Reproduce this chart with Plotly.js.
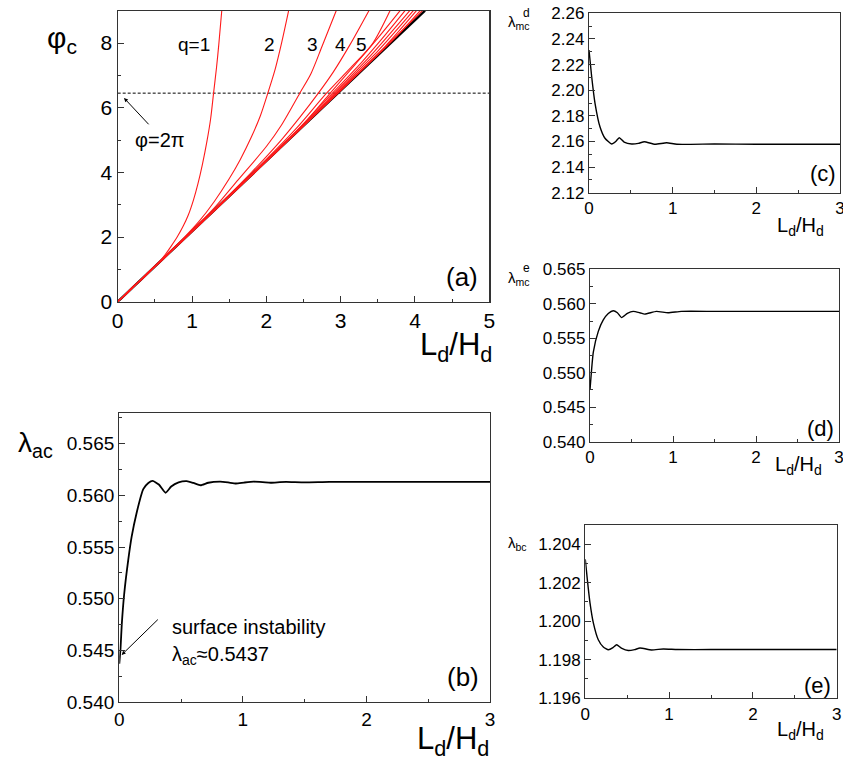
<!DOCTYPE html>
<html><head><meta charset="utf-8">
<script src="https://cdn.plot.ly/plotly-3.0.1.min.js"></script>
<style>html,body{margin:0;padding:0;background:#fff}#chart{width:843px;height:763px}</style>
</head><body><div id="chart"></div>
<script>
// ---------- Panel (a): critical phase vs Ld/Hd ----------
const limitX = [0, 1, 2, 3, 4.135];
const limitY = [0, 2.177, 4.354, 6.531, 9];
const twoPiX = [0, 5];
const twoPiY = [6.45, 6.45];
const q1X = [0, 0.55, 0.64, 0.72, 0.80, 0.88, 0.95, 1.02, 1.08, 1.14, 1.20, 1.25, 1.29, 1.33, 1.36, 1.40];
const q1Y = [0, 1.20, 1.46, 1.72, 2.00, 2.33, 2.68, 3.15, 3.65, 4.25, 4.95, 5.65, 6.45, 7.25, 7.95, 9.00];
const q2X = [0, 0.70, 0.90, 1.10, 1.30, 1.50, 1.65, 1.80, 1.92, 2.02, 2.12, 2.21, 2.30];
const q2Y = [0, 1.55, 2.00, 2.50, 3.10, 3.80, 4.40, 5.10, 5.75, 6.45, 7.20, 8.05, 9.00];
const q3X = [0, 1.00, 1.30, 1.62, 1.80, 2.00, 2.20, 2.45, 2.60, 2.75, 2.94];
const q3Y = [0, 2.20, 2.90, 3.77, 4.25, 4.80, 5.45, 6.45, 7.05, 7.90, 9.00];
const q4X = [0, 1.30, 1.80, 2.20, 2.45, 2.70, 2.90, 3.126, 3.38];
const q4Y = [0, 2.85, 4.00, 5.00, 5.70, 6.45, 7.10, 7.95, 9.00];
const q5X = [0, 1.50, 2.00, 2.40, 2.81, 3.12, 3.42, 3.664];
const q5Y = [0, 3.27, 4.40, 5.35, 6.45, 7.20, 7.95, 9.00];
const q6X = [0, 2.00, 2.50, 2.86, 3.20, 3.50, 3.80];
const q6Y = [0, 4.37, 5.50, 6.45, 7.35, 8.15, 9.00];
const q7X = [0, 2.20, 2.89, 3.30, 3.60, 3.866];
const q7Y = [0, 4.80, 6.45, 7.45, 8.25, 9.00];
const q8X = [0, 2.40, 2.915, 3.40, 3.93];
const q8Y = [0, 5.23, 6.45, 7.60, 9.00];
const q9X = [0, 2.60, 2.93, 3.50, 3.978];
const q9Y = [0, 5.66, 6.45, 7.75, 9.00];
const q10X = [0, 2.70, 2.945, 3.60, 4.02];
const q10Y = [0, 5.88, 6.45, 7.90, 9.00];
const q11X = [0, 2.80, 3.70, 4.07];
const q11Y = [0, 6.10, 8.08, 9.00];
const q12X = [0, 3.00, 4.10];
const q12Y = [0, 6.53, 9.00];
const qLabels = ["q=1", "2", "3", "4", "5"];
const qLabelX = [1.02, 2.04, 2.62, 3.00, 3.28];
const qLabelY = [7.95, 7.95, 7.95, 7.95, 7.95];

// ---------- Panel (b): lambda_ac ----------
const bX = [0, 0.01, 0.02, 0.04, 0.073, 0.10, 0.14, 0.194, 0.235, 0.27, 0.32, 0.375, 0.42, 0.48, 0.545, 0.60, 0.658, 0.72, 0.815, 0.88, 0.944, 1.01, 1.087, 1.16, 1.225, 1.30, 1.35, 1.50, 1.70, 2.00, 2.50, 3.00];
const bY = [0.5437, 0.5452, 0.5475, 0.5505, 0.5538, 0.5560, 0.5583, 0.5606, 0.5612, 0.56140, 0.56105, 0.56025, 0.56085, 0.56125, 0.56137, 0.56120, 0.56098, 0.56122, 0.56132, 0.56125, 0.56115, 0.56124, 0.56132, 0.56128, 0.56122, 0.56128, 0.56131, 0.56126, 0.56131, 0.56130, 0.56131, 0.56131];

// ---------- Panel (c): lambda^d_mc ----------
const cX = [0, 0.032, 0.072, 0.131, 0.191, 0.271, 0.32, 0.362, 0.42, 0.51, 0.59, 0.661, 0.789, 0.928, 1.05, 1.5, 2.0, 3.0];
const cY = [2.2314, 2.2105, 2.1898, 2.1715, 2.1625, 2.1580, 2.1600, 2.1629, 2.1595, 2.1580, 2.1585, 2.1598, 2.1578, 2.1590, 2.1578, 2.1580, 2.1578, 2.1578];

// ---------- Panel (d): lambda^e_mc ----------
const dX = [0, 0.04, 0.10, 0.16, 0.22, 0.28, 0.33, 0.38, 0.45, 0.52, 0.60, 0.66, 0.80, 0.94, 1.10, 1.5, 2.0, 3.0];
const dY = [0.5475, 0.5530, 0.5560, 0.55766, 0.5586, 0.5590, 0.5587, 0.5580, 0.5586, 0.5589, 0.5587, 0.5585, 0.5589, 0.5587, 0.5589, 0.5589, 0.5589, 0.5589];

// ---------- Panel (e): lambda_bc ----------
const eX = [0, 0.024, 0.056, 0.096, 0.155, 0.215, 0.275, 0.33, 0.374, 0.43, 0.513, 0.59, 0.653, 0.79, 0.931, 1.1, 1.5, 2.0, 3.0];
const eY = [1.20322, 1.20217, 1.20095, 1.19991, 1.19903, 1.19865, 1.19851, 1.19862, 1.19877, 1.19860, 1.19847, 1.19852, 1.19860, 1.19850, 1.19855, 1.19852, 1.19852, 1.19852, 1.19852];

const W = 843, H = 763;
const px = v => v / W;
const py = v => 1 - v / H;
const FONT = "Liberation Sans, Arial, Helvetica, sans-serif";

const red = {color: "#ff1a1a", width: 1.1, shape: "spline", smoothing: 0.8};
const redCurves = [[q1X,q1Y],[q2X,q2Y],[q3X,q3Y],[q4X,q4Y],[q5X,q5Y],[q6X,q6Y],[q7X,q7Y],[q8X,q8Y],[q9X,q9Y],[q10X,q10Y],[q11X,q11Y],[q12X,q12Y]];

const traces = [];
traces.push({x: twoPiX, y: twoPiY, xaxis: "x", yaxis: "y", mode: "lines", line: {color: "black", width: 1, dash: "3px,2px"}, hoverinfo: "skip"});
traces.push({x: limitX, y: limitY, xaxis: "x", yaxis: "y", mode: "lines", line: {color: "black", width: 2.4}});
redCurves.forEach(c => traces.push({x: c[0], y: c[1], xaxis: "x", yaxis: "y", mode: "lines", line: red}));
const blk = {color: "black", width: 1.4, shape: "spline", smoothing: 0.5};
traces.push({x: bX, y: bY, xaxis: "x2", yaxis: "y2", mode: "lines", line: {color: "black", width: 1.8, shape: "spline", smoothing: 0.5}});
traces.push({x: cX, y: cY, xaxis: "x3", yaxis: "y3", mode: "lines", line: blk});
traces.push({x: dX, y: dY, xaxis: "x4", yaxis: "y4", mode: "lines", line: blk});
traces.push({x: eX, y: eY, xaxis: "x5", yaxis: "y5", mode: "lines", line: blk});

function ax(domain, range, dtick, minor, size, fmt, anchor) {
  return {
    domain: domain, range: range, dtick: dtick, tick0: range[0], anchor: anchor,
    ticks: "inside", ticklen: 6, tickwidth: 1, tickcolor: "#333",
    minor: {ticks: "inside", dtick: minor, ticklen: 3, tickcolor: "#333", tickwidth: 1},
    showline: true, linecolor: "#333", linewidth: 1.2, mirror: true,
    showgrid: false, zeroline: false, tickformat: fmt, ticklabeloverflow: "allow",
    tickfont: {family: FONT, size: size, color: "black"}, fixedrange: true
  };
}

const layout = {
  width: W, height: H, margin: {l: 0, r: 0, t: 0, b: 0},
  paper_bgcolor: "white", plot_bgcolor: "white", showlegend: false,
  font: {family: FONT, color: "black"},
  xaxis:  ax([px(117.7), px(489.3)], [0, 5], 1, 0.5, 21, "d", "y"),
  yaxis:  ax([py(301.7), py(10.7)], [0, 9], 2, 1, 21, "d", "x"),
  xaxis2: ax([px(119.3), px(490)], [0, 3], 1, 0.5, 19, "d", "y2"),
  yaxis2: ax([py(702), py(412.7)], [0.540, 0.568], 0.005, 0.0025, 19, ".3f", "x2"),
  xaxis3: ax([px(589), px(840)], [0, 3], 1, 0.5, 17, "d", "y3"),
  yaxis3: ax([py(192.7), py(13.3)], [2.12, 2.26], 0.02, 0.01, 17, ".2f", "x3"),
  xaxis4: ax([px(590), px(839)], [0, 3], 1, 0.5, 17, "d", "y4"),
  yaxis4: ax([py(441.7), py(269.3)], [0.540, 0.565], 0.005, 0.0025, 17, ".3f", "x4"),
  xaxis5: ax([px(585.3), px(836.7)], [0, 3], 1, 0.5, 17, "d", "y5"),
  yaxis5: ax([py(698), py(525)], [1.196, 1.205], 0.002, 0.001, 17, ".3f", "x5"),
  annotations: []
};

const A = layout.annotations;
function pt(text, x, y, size, xa, ya) {
  A.push({text: text, xref: "paper", yref: "paper", x: px(x), y: py(y), xanchor: xa || "center", yanchor: ya || "middle", showarrow: false, font: {family: FONT, size: size, color: "black"}});
}
// Panel (a)
pt("φ<sub>c</sub>", 62, 40, 30);
pt("L<sub>d</sub>/H<sub>d</sub>", 456, 347, 31);
qLabels.forEach((t, i) => A.push({text: t, xref: "x", yref: "y", x: qLabelX[i], y: qLabelY[i], showarrow: false, font: {family: FONT, size: 19, color: "black"}}));
A.push({text: "φ=2π", xref: "x", yref: "y", x: 0.57, y: 5.0, showarrow: false, font: {family: FONT, size: 20, color: "black"}});
A.push({text: "", xref: "x", yref: "y", x: 0.085, y: 6.30, axref: "x", ayref: "y", ax: 0.435, ay: 5.44, showarrow: true, arrowhead: 2, arrowsize: 0.8, arrowwidth: 1, arrowcolor: "black"});
A.push({text: "(a)", xref: "x", yref: "y", x: 4.63, y: 0.77, showarrow: false, font: {family: FONT, size: 26, color: "black"}});
// Panel (b)
pt("λ<sub>ac</sub>", 35, 445, 28);
pt("L<sub>d</sub>/H<sub>d</sub>", 453, 741, 31);
pt("(b)", 463, 677, 26);
pt("surface instability", 170, 627, 20, "left");
pt("λ<sub>ac</sub>≈0.5437", 170, 655, 20, "left");
A.push({text: "", xref: "x2", yref: "y2", x: 0.019, y: 0.54456, axref: "x2", ayref: "y2", ax: 0.324, ay: 0.54812, showarrow: true, arrowhead: 2, arrowsize: 0.8, arrowwidth: 1, arrowcolor: "black"});
// Panel (c)
pt("λ<sub>mc</sub>", 506, 23, 15, "left");
pt("d", 521, 13, 12, "left");
pt("(c)", 823, 173, 22);
pt("L<sub>d</sub>/H<sub>d</sub>", 800, 227, 20);
// Panel (d)
pt("λ<sub>mc</sub>", 506, 278, 15, "left");
pt("e", 521, 268, 12, "left");
pt("(d)", 820, 428, 22);
pt("L<sub>d</sub>/H<sub>d</sub>", 798, 465, 20);
// Panel (e)
pt("λ<sub>bc</sub>", 506, 543, 15, "left");
pt("(e)", 817, 685, 22);
pt("L<sub>d</sub>/H<sub>d</sub>", 800, 730, 20);

Plotly.newPlot("chart", traces, layout, {staticPlot: true, displayModeBar: false});
</script></body></html>
